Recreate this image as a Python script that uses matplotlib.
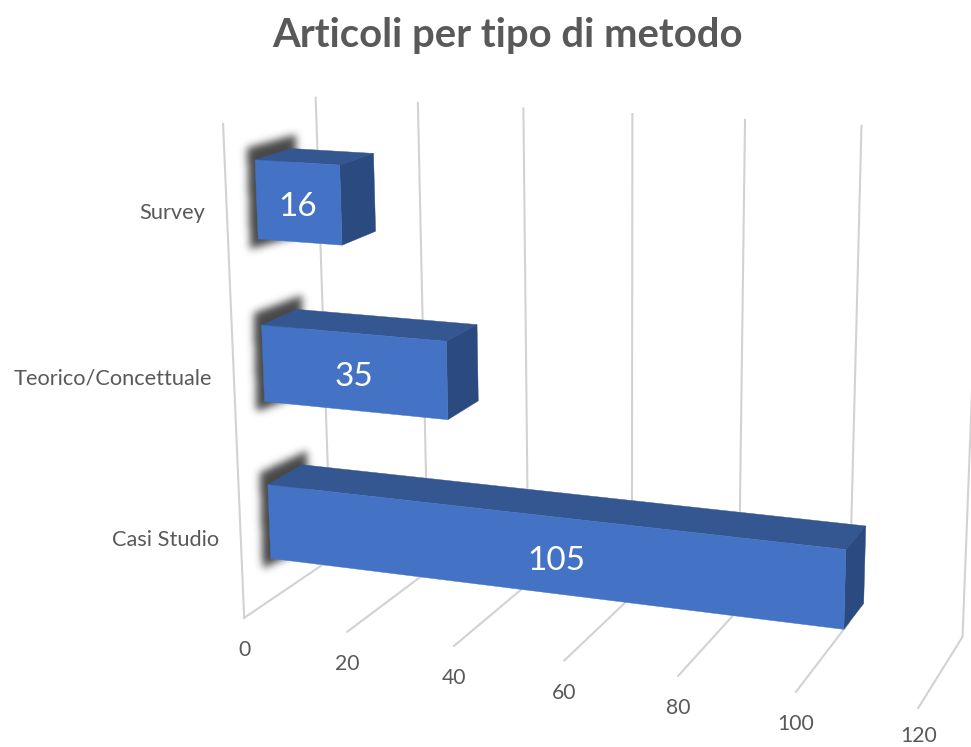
import numpy as np
import matplotlib
matplotlib.use("Agg")
import matplotlib.pyplot as plt
from matplotlib.patches import Polygon
from matplotlib.path import Path

# Data
categorie = ["Casi Studio", "Teorico/Concettuale", "Survey"]
articoli = [105, 35, 16]
tick_valori = [0, 20, 40, 60, 80, 100, 120]
titolo = "Articoli per tipo di metodo"

GRIGIO = "#595959"
GRIGLIA = "#D2D2D2"
FRONTE = "#4472C4"
SOPRA = "#345792"
LATO = "#2A4A80"
W, H = 971, 747

# Perspective camera fitted on the axis frame: (value, height, depth) -> pixel
calib = [
    (0, 0, 0, 244, 618), (20, 0, 0, 347, 632), (40, 0, 0, 453, 646),
    (100, 0, 0, 797, 691), (120, 0, 0, 918, 708),
    (0, 0, 1, 331, 559), (20, 0, 1, 429, 571), (100, 0, 1, 849, 623),
    (120, 0, 1, 962, 637),
    (0, 1, 0, 224, 124), (0, 1, 1, 315, 98), (20, 1, 1, 418, 103),
    (40, 1, 1, 523, 108), (60, 1, 1, 632, 114), (80, 1, 1, 745, 120),
    (100, 1, 1, 862, 126),
]
A, b = [], []
for v, h, d, u, w in calib:
    A.append([v / 120, h, d, 1, 0, 0, 0, 0, -u * v / 120, -u * h, -u * d])
    A.append([0, 0, 0, 0, v / 120, h, d, 1, -w * v / 120, -w * h, -w * d])
    b += [u, w]
P = np.append(np.linalg.lstsq(np.array(A, float), np.array(b, float), rcond=None)[0], 1).reshape(3, 4)


def proj(v, h, d):
    x, y, z = P @ np.array([v / 120, h, d, 1.0])
    return x / z, y / z


def sfoca(mask, sigma):
    # separable gaussian blur
    r = int(3 * sigma)
    k = np.exp(-0.5 * (np.arange(-r, r + 1) / sigma) ** 2)
    k /= k.sum()
    mask = np.apply_along_axis(lambda c: np.convolve(c, k, mode="same"), 0, mask)
    return np.apply_along_axis(lambda c: np.convolve(c, k, mode="same"), 1, mask)


plt.rcParams["font.family"] = ["Lato", "DejaVu Sans"]
fig = plt.figure(figsize=(W / 100, H / 100), dpi=100)
ax = fig.add_axes([0, 0, 1, 1])
ax.axis("off")

# Gridlines: depth line on the floor, then up the back wall
for v in tick_valori:
    pts = [proj(v, 0, 0), proj(v, 0, 1), proj(v, 1, 1)]
    ax.plot(*zip(*pts), color=GRIGLIA, lw=1.5, solid_joinstyle="miter", zorder=1)
    # keep the last label inside the picture
    ax.text(proj(v, 0, 0)[0], min(proj(v, 0, 0)[1] + 32, 736), str(v), color=GRIGIO,
            fontsize=15.2, ha="center", va="center")
ax.plot(*zip(proj(0, 0, 0), proj(0, 1, 0)), color=GRIGLIA, lw=1.5, zorder=1)

# Bars
d0, d1 = 0.31, 0.70
meta = 0.079
griglia_x, griglia_y = np.meshgrid(np.arange(W) + 0.5, np.arange(H) + 0.5)
griglia = np.column_stack([griglia_x.ravel(), griglia_y.ravel()])
ombra = np.zeros((H, W))
scarto_x = [22, 22, 22]
scarto_y = [1, 1, 3]

for i, (nome, val) in enumerate(zip(categorie, articoli)):
    c = (i + 0.5) / 3
    h0, h1 = c - meta, c + meta

    # soft shadow mask around the hidden left face
    fb, ft = proj(0, h0, d0), proj(0, h1, d0)
    bt, bb = proj(0, h1, d1), proj(0, h0, d1)
    faccia = [(fb[0] - 8, fb[1] + 10), (ft[0] - 8, ft[1] - 12), (bt[0] + 5, bt[1] - 14), (bb[0] + 5, bb[1] + 10)]
    ombra += Path(faccia + [faccia[0]]).contains_points(griglia).reshape(H, W)

    ax.add_patch(Polygon([proj(0, h1, d0), proj(val, h1, d0), proj(val, h1, d1), proj(0, h1, d1)],
                         fc=SOPRA, ec=SOPRA, lw=0.3, zorder=3))
    ax.add_patch(Polygon([proj(val, h0, d0), proj(val, h1, d0), proj(val, h1, d1), proj(val, h0, d1)],
                         fc=LATO, ec=LATO, lw=0.3, zorder=3))
    ax.add_patch(Polygon([proj(0, h0, d0), proj(val, h0, d0), proj(val, h1, d0), proj(0, h1, d0)],
                         fc=FRONTE, ec=FRONTE, lw=0.3, zorder=4))

    xa, ya = proj(0, c, d0)
    xb, yb = proj(val, c, d0)
    ax.text((xa + xb) / 2 - 1, (ya + yb) / 2 + 5, str(val), color="white", fontsize=24,
            ha="center", va="center", zorder=5)

    xl, yl = proj(0, c, 0)
    ax.text(xl - scarto_x[i], yl + scarto_y[i], nome, color=GRIGIO, fontsize=15.7, ha="right", va="center")

rgba = np.zeros((H, W, 4))
rgba[..., :3] = 0.2
rgba[..., 3] = 0.9 * sfoca(ombra, 4.0)
ax.imshow(rgba, extent=(0, W, H, 0), aspect="auto", interpolation="bilinear", zorder=2)
ax.set_xlim(0, W)
ax.set_ylim(H, 0)

ax.text(507, 36, titolo, color=GRIGIO, fontsize=28.8, fontweight="bold", ha="center", va="center")

fig.savefig("out.png", dpi=100)
